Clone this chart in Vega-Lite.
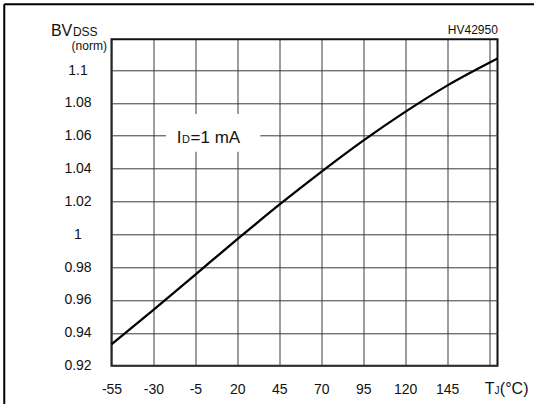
{
  "$schema": "https://vega.github.io/schema/vega-lite/v6.json",
  "width": 386,
  "height": 326.4,
  "autosize": {"type": "none"},
  "padding": {"left": 111.5, "top": 39.3, "right": 36.5, "bottom": 38.3},
  "background": "white",
  "config": {
    "font": "Liberation Sans",
    "view": {"stroke": "#111", "strokeWidth": 2},
    "axis": {
      "grid": true,
      "gridColor": "#3a3a3a",
      "gridWidth": 1,
      "gridOpacity": 1,
      "domain": false,
      "ticks": false,
      "labelFont": "Liberation Sans",
      "labelFontSize": 14,
      "labelColor": "#111",
      "title": null
    }
  },
  "datasets": {
    "curve": [
      {"tj": -55, "bv": 0.933},
      {"tj": -30, "bv": 0.954},
      {"tj": -5, "bv": 0.9755},
      {"tj": 20, "bv": 0.997},
      {"tj": 45, "bv": 1.018},
      {"tj": 70, "bv": 1.038},
      {"tj": 95, "bv": 1.057},
      {"tj": 120, "bv": 1.0745},
      {"tj": 145, "bv": 1.0905},
      {"tj": 175, "bv": 1.107}
    ]
  },
  "encoding": {
    "x": {
      "type": "quantitative",
      "scale": {"domain": [-55, 175], "nice": false, "zero": false},
      "axis": {
        "values": [-55, -30, -5, 20, 45, 70, 95, 120, 145, 170],
        "labelExpr": "datum.value == 170 ? '' : toString(datum.value)",
        "labelPadding": 17,
        "labelFlush": false
      }
    },
    "y": {
      "type": "quantitative",
      "scale": {"domain": [0.92, 1.1187], "nice": false, "zero": false},
      "axis": {
        "values": [0.92, 0.94, 0.96, 0.98, 1, 1.02, 1.04, 1.06, 1.08, 1.1],
        "format": ".2~f",
        "labelAlign": "center",
        "labelPadding": 34,
        "labelFlush": false
      }
    }
  },
  "layer": [
    {
      "data": {"values": [{"x1": -22.5, "x2": 33.7, "y1": 1.0503, "y2": 1.0732}]},
      "mark": {"type": "rect", "fill": "white", "stroke": null},
      "encoding": {
        "x": {"field": "x1", "type": "quantitative"},
        "x2": {"field": "x2"},
        "y": {"field": "y1", "type": "quantitative"},
        "y2": {"field": "y2"}
      }
    },
    {
      "data": {"name": "curve"},
      "mark": {"type": "line", "color": "black", "strokeWidth": 2.3, "interpolate": "monotone"},
      "encoding": {
        "x": {"field": "tj", "type": "quantitative"},
        "y": {"field": "bv", "type": "quantitative"}
      }
    },
    {
      "data": {"values": [
        {"x1": -118.9, "x2": 197.3, "y1": 1.14, "y2": 1.14},
        {"x1": -118.9, "x2": -118.9, "y1": 0.8967, "y2": 1.14}
      ]},
      "mark": {"type": "rule", "color": "black", "strokeWidth": 2, "clip": false},
      "encoding": {
        "x": {"field": "x1", "type": "quantitative"},
        "x2": {"field": "x2"},
        "y": {"field": "y1", "type": "quantitative"},
        "y2": {"field": "y2"}
      }
    },
    {
      "data": {"values": [
        {"tj": -91.1, "bv": 1.1205, "t": "BV"},
        {"tj": 167.4, "bv": 0.9025, "t": "T"},
        {"tj": 176.4, "bv": 0.9025, "t": "(°C)"}
      ]},
      "mark": {"type": "text", "fontSize": 16, "align": "left", "baseline": "alphabetic", "color": "#111"},
      "encoding": {
        "x": {"field": "tj", "type": "quantitative"},
        "y": {"field": "bv", "type": "quantitative"},
        "text": {"field": "t"}
      }
    },
    {
      "data": {"values": [
        {"tj": -16.07, "bv": 1.0558, "t": "I"},
        {"tj": -7.9, "bv": 1.0558, "t": "=1 mA"}
      ]},
      "mark": {"type": "text", "fontSize": 17, "align": "left", "baseline": "alphabetic", "color": "#111"},
      "encoding": {
        "x": {"field": "tj", "type": "quantitative"},
        "y": {"field": "bv", "type": "quantitative"},
        "text": {"field": "t"}
      }
    },
    {
      "data": {"values": [
        {"tj": -78.0, "bv": 1.1205, "t": "DSS"}
      ]},
      "mark": {"type": "text", "fontSize": 12, "align": "left", "baseline": "alphabetic", "color": "#111"},
      "encoding": {
        "x": {"field": "tj", "type": "quantitative"},
        "y": {"field": "bv", "type": "quantitative"},
        "text": {"field": "t"}
      }
    },
    {
      "data": {"values": [
        {"tj": -13.0, "bv": 1.0558, "t": "D"}
      ]},
      "mark": {"type": "text", "fontSize": 11, "align": "left", "baseline": "alphabetic", "color": "#111"},
      "encoding": {
        "x": {"field": "tj", "type": "quantitative"},
        "y": {"field": "bv", "type": "quantitative"},
        "text": {"field": "t"}
      }
    },
    {
      "data": {"values": [
        {"tj": 173.2, "bv": 0.9025, "t": "J"}
      ]},
      "mark": {"type": "text", "fontSize": 10, "align": "left", "baseline": "alphabetic", "color": "#111"},
      "encoding": {
        "x": {"field": "tj", "type": "quantitative"},
        "y": {"field": "bv", "type": "quantitative"},
        "text": {"field": "t"}
      }
    },
    {
      "data": {"values": [
        {"tj": -57.7, "bv": 1.1147, "t": "(norm)"},
        {"tj": 175.2, "bv": 1.1244, "t": "HV42950"}
      ]},
      "mark": {"type": "text", "fontSize": 12, "align": "right", "baseline": "middle", "color": "#111"},
      "encoding": {
        "x": {"field": "tj", "type": "quantitative"},
        "y": {"field": "bv", "type": "quantitative"},
        "text": {"field": "t"}
      }
    }
  ]
}
